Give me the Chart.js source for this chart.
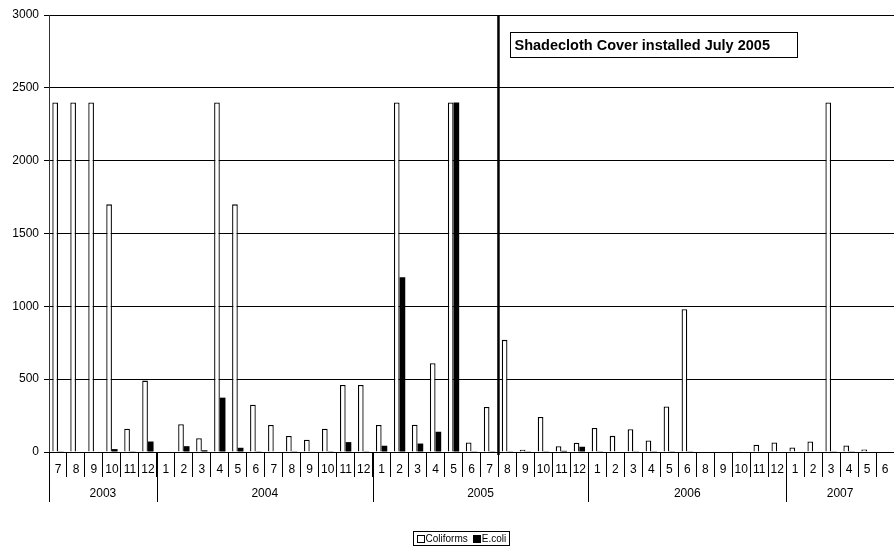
<!DOCTYPE html>
<html>
<head>
<meta charset="utf-8">
<title>Coliforms and E.coli by month, 2003-2007</title>
<script src="https://cdn.jsdelivr.net/npm/chart.js@4.4.1/dist/chart.umd.min.js"></script>
<style>
  html, body { margin: 0; padding: 0; background: #fff; }
  #wrap { width: 894px; height: 548px; position: relative; }
</style>
</head>
<body>
<div id="wrap"><canvas id="chart" width="894" height="548"></canvas></div>
<script>
// Sampling months (July 2003 - June 2007; no sample in July 2006)
const monthLabels = [
  '7','8','9','10','11','12',
  '1','2','3','4','5','6','7','8','9','10','11','12',
  '1','2','3','4','5','6','7','8','9','10','11','12',
  '1','2','3','4','5','6','8','9','10','11','12',
  '1','2','3','4','5','6'
];
const yearLabels = ['2003', '2004', '2005', '2006', '2007'];
const yearSpans  = [6, 12, 12, 11, 6];

const coliforms = [
  2400, 2400, 2400, 1700, 160, 490,
  3, 190, 95, 2400, 1700, 325, 185, 110, 84, 160, 460, 460,
  185, 2400, 187, 610, 2400, 65, 309, 770, 15, 240, 40, 63,
  165, 111, 157, 79, 313, 980, 0, 0, 5, 50, 65,
  31, 72, 2400, 45, 17, 0
];
const ecoli = [
  2, 0, 0, 20, 5, 72,
  0, 40, 12, 373, 29, 5, 0, 5, 3, 5, 68, 5,
  43, 1200, 58, 139, 2400, 2, 5, 2, 2, 5, 8, 36,
  5, 0, 2, 5, 5, 2, 0, 0, 0, 0, 0,
  0, 0, 2, 2, 0, 0
];

const yMin = 0, yMax = 3000, yStep = 500;

// Marker after July 2005 (index of that month in monthLabels)
const coverMonthIndex = 24;
const coverNote = 'Shadecloth Cover installed July 2005';
const coverNoteLevel = 2885;

const FONT = '"Liberation Sans", Arial, Helvetica, sans-serif';
Chart.defaults.font.family = FONT;
Chart.defaults.color = '#000';

// Year row, installation marker, note box and boxed legend
const decorations = {
  id: 'decorations',
  afterDraw(chart) {
    const { ctx, chartArea: area, scales: { x, y } } = chart;
    const half = (x.getPixelForValue(1) - x.getPixelForValue(0)) / 2;
    ctx.save();

    // year separators and labels under the month row
    ctx.strokeStyle = '#000';
    ctx.lineWidth = 1;
    ctx.fillStyle = '#000';
    ctx.font = '12px ' + FONT;
    ctx.textAlign = 'center';
    ctx.textBaseline = 'middle';
    let start = 0;
    yearLabels.forEach((yr, i) => {
      const left = x.getPixelForValue(start) - half;
      const right = x.getPixelForValue(start + yearSpans[i] - 1) + half;
      const px = Math.round(left) + 0.5;
      ctx.beginPath();
      ctx.moveTo(px, area.bottom);
      ctx.lineTo(px, area.bottom + 50);
      ctx.stroke();
      ctx.fillText(yr, (left + right) / 2, area.bottom + 42);
      start += yearSpans[i];
    });

    // installation marker
    const xv = x.getPixelForValue(coverMonthIndex) + half;
    ctx.lineWidth = 2.5;
    ctx.beginPath();
    ctx.moveTo(xv, area.top);
    ctx.lineTo(xv, area.bottom + 3);
    ctx.stroke();

    // note box
    ctx.font = 'bold 14.5px ' + FONT;
    const tw = ctx.measureText(coverNote).width;
    const bx = Math.round(xv + 12) + 0.5;
    const by = Math.round(y.getPixelForValue(coverNoteLevel)) + 0.5;
    const bw = Math.round(tw + 32), bh = 25;
    ctx.fillStyle = '#fff';
    ctx.fillRect(bx, by, bw, bh);
    ctx.lineWidth = 1;
    ctx.strokeStyle = '#000';
    ctx.strokeRect(bx, by, bw, bh);
    ctx.fillStyle = '#000';
    ctx.textAlign = 'left';
    ctx.fillText(coverNote, bx + 4, by + bh / 2 + 0.5);

    // legend
    ctx.font = '10px ' + FONT;
    const items = chart.data.datasets.map(ds => ({
      label: ds.label, fill: ds.backgroundColor
    }));
    const sw = 7, gap = 2, spacing = 5, pad = 3;
    let total = pad;
    items.forEach((it, i) => {
      total += sw + gap + ctx.measureText(it.label).width + (i < items.length - 1 ? spacing : 0);
    });
    total += pad;
    const lw = Math.round(total), lh = 14;
    const lx = Math.round(chart.width / 2 - lw / 2 + 14) + 0.5;
    const ly = 531.5;
    ctx.strokeRect(lx, ly, lw, lh);
    let cx = lx + pad;
    const cy = ly + lh / 2;
    items.forEach(it => {
      ctx.fillStyle = it.fill;
      ctx.fillRect(Math.round(cx) + 0.5, Math.round(cy - sw / 2) + 0.5, sw, sw);
      ctx.strokeRect(Math.round(cx) + 0.5, Math.round(cy - sw / 2) + 0.5, sw, sw);
      cx += sw + gap;
      ctx.fillStyle = '#000';
      ctx.fillText(it.label, cx, cy + 0.5);
      cx += ctx.measureText(it.label).width + spacing;
    });

    ctx.restore();
  }
};

new Chart(document.getElementById('chart'), {
  type: 'bar',
  data: {
    labels: monthLabels,
    datasets: [
      {
        label: 'Coliforms',
        data: coliforms,
        backgroundColor: '#ffffff',
        borderColor: '#000000',
        borderWidth: 1.3,
        categoryPercentage: 0.63,
        barPercentage: 1.0
      },
      {
        label: 'E.coli',
        data: ecoli,
        backgroundColor: '#000000',
        borderColor: '#000000',
        borderWidth: 0,
        categoryPercentage: 0.63,
        barPercentage: 1.0
      }
    ]
  },
  options: {
    responsive: false,
    animation: false,
    layout: { padding: { top: 15, left: 0, right: 0, bottom: 0 } },
    plugins: {
      legend: { display: false },
      tooltip: { enabled: false },
      title: { display: false }
    },
    scales: {
      x: {
        offset: true,
        afterFit(scale) { scale.height = 96; },
        grid: {
          offset: true,
          drawOnChartArea: false,
          drawTicks: true,
          tickLength: 25,
          color: '#000',
          lineWidth: 1
        },
        border: { display: true, color: '#000', width: 1 },
        ticks: {
          autoSkip: false,
          maxRotation: 0,
          minRotation: 0,
          padding: -15,
          font: { size: 12, family: FONT },
          color: '#000'
        }
      },
      y: {
        min: yMin,
        max: yMax,
        afterFit(scale) { scale.width = 49; },
        grid: {
          color: '#000',
          lineWidth: 1,
          drawTicks: true,
          tickLength: 5
        },
        border: { display: true, color: '#333', width: 1 },
        ticks: {
          stepSize: yStep,
          padding: 5,
          font: { size: 12, family: FONT },
          color: '#000',
          callback: value => String(value)
        }
      }
    }
  },
  plugins: [decorations]
});
</script>
</body>
</html>
